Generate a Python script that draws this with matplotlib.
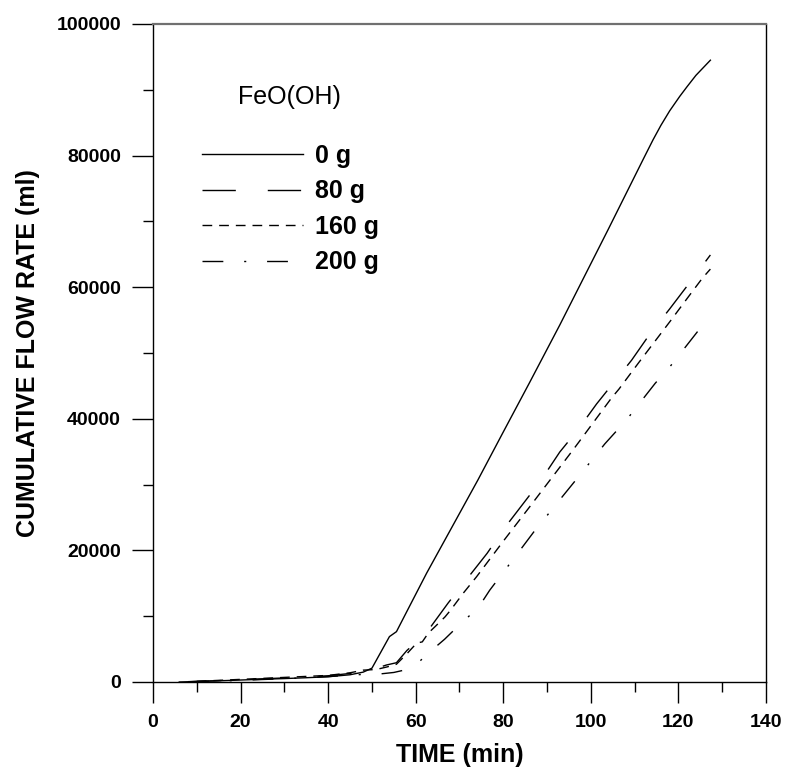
import matplotlib
matplotlib.use("Agg")
import matplotlib.pyplot as plt
from matplotlib.ticker import MultipleLocator

plt.rcParams["font.family"] = ["Liberation Sans", "DejaVu Sans"]

# ------------------------------------------------
# DATA
# ------------------------------------------------

time_0g = [6, 10, 15, 20, 25, 30, 35, 40, 45, 48, 50, 52, 54, 55.6, 58, 62.5, 68,
           74.2, 80, 86, 92.9, 98, 103.9, 108.1, 112, 114.2, 116, 118, 120.3, 122,
           124, 127.3]
flow_0g = [0, 80, 180, 300, 420, 520, 650, 800, 1100, 1500, 2100, 4500, 6900, 7650,
           10750, 16550, 23200, 30700, 38000, 45500, 54250, 60950, 68700, 74300,
           79500, 82400, 84600, 86800, 89000, 90500, 92200, 94500]

time_80g = [8, 15, 20, 25, 30, 35, 40, 45, 48, 51, 53.3, 55.6, 58, 60.2, 61.5, 62.9,
            67.4, 71.8, 76.3, 80.5, 88.4, 92.9, 97, 101.3, 109.3, 113.6, 118, 122, 127.3]
flow_80g = [50, 200, 350, 480, 620, 780, 950, 1300, 1700, 2080, 2580, 2930, 4800, 6100,
            6400, 7900, 12000, 15750, 19550, 23600, 30450, 34950, 38300, 42250, 48900,
            53000, 56700, 60200, 64900]

time_160g = [10, 15, 20, 25, 30, 35, 40, 45, 48, 51, 53.5, 55.6, 58, 60.2, 61.5, 62.9,
             64.4, 66.7, 68, 70.8, 73.9, 80, 86, 90, 95.9, 97.3, 104.7, 106.4, 111,
             116.6, 118.2, 122, 125.5, 127.3]
flow_160g = [100, 250, 400, 550, 700, 850, 1000, 1400, 1800, 1900, 2300, 2700, 4300,
             5900, 6100, 7450, 8400, 9900, 10950, 13450, 16000, 21400, 26600, 30100,
             35250, 36500, 43150, 44500, 48600, 53500, 54900, 58300, 61400, 62750]

time_200g = [8, 15, 20, 25, 30, 35, 40, 45, 48, 51.5, 55, 56.8, 60.8, 63, 66.6, 70,
             74.3, 76.9, 83.4, 86.9, 92, 97, 103.2, 108.1, 114.7, 117.8, 121, 124.3, 127.3]
flow_200g = [30, 150, 250, 380, 500, 650, 820, 1050, 1150, 1200, 1450, 1720, 3080, 4450,
             6500, 8700, 11300, 13950, 19650, 22750, 26950, 31050, 36200, 39800, 45400,
             47700, 50400, 53200, 55300]

labels = ["0 g", "80 g", "160 g", "200 g"]

# ------------------------------------------------
# FIGURE
# ------------------------------------------------

fig = plt.figure(figsize=(7.88, 7.71), dpi=100)
ax = fig.add_axes([153 / 788, 1 - 682 / 771, 613 / 788, 658 / 771])

lw = 1.0
ax.plot(time_0g, flow_0g, color="black", lw=lw, label=labels[0])
ax.plot(time_80g, flow_80g, color="black", lw=lw, linestyle=(0, (24, 23)), label=labels[1])
ax.plot(time_160g, flow_160g, color="black", lw=lw, linestyle=(0, (7, 5)), label=labels[2])
ax.plot(time_200g, flow_200g, color="black", lw=lw,
        linestyle=(0, (15, 15, 1.5, 15)), label=labels[3])

ax.set_xlim(0, 140)
ax.set_ylim(0, 100000)

ax.xaxis.set_major_locator(MultipleLocator(20))
ax.xaxis.set_minor_locator(MultipleLocator(10))
ax.yaxis.set_major_locator(MultipleLocator(20000))
ax.yaxis.set_minor_locator(MultipleLocator(10000))

ax.tick_params(which="major", direction="out", length=15, width=1, pad=8,
               labelsize=14, top=False, right=False)
ax.tick_params(which="minor", direction="out", length=7.5, width=1,
               top=False, right=False)
for lab in ax.get_xticklabels() + ax.get_yticklabels():
    lab.set_fontweight("bold")

for side in ["left", "bottom", "right"]:
    ax.spines[side].set_color("black")
    ax.spines[side].set_linewidth(1.0)
ax.spines["top"].set_color("#707070")
ax.spines["top"].set_linewidth(1.6)

ax.set_xlabel("TIME (min)", fontsize=18, fontweight="bold")
ax.set_ylabel("CUMULATIVE FLOW RATE (ml)", fontsize=18, fontweight="bold")
ax.xaxis.set_label_coords(0.5, -0.092)
ax.yaxis.set_label_coords(-0.185, 0.5)

ax.text(0.222, 0.889, "FeO(OH)", transform=ax.transAxes, fontsize=18,
        ha="center", va="center")

ax.legend(loc="upper left", bbox_to_anchor=(0.080, 0.818), frameon=False,
          prop={"weight": "bold", "size": 18},
          handlelength=4.05, handletextpad=0.45, labelspacing=0.46,
          borderpad=0, borderaxespad=0)

fig.savefig("out.png", dpi=100)
